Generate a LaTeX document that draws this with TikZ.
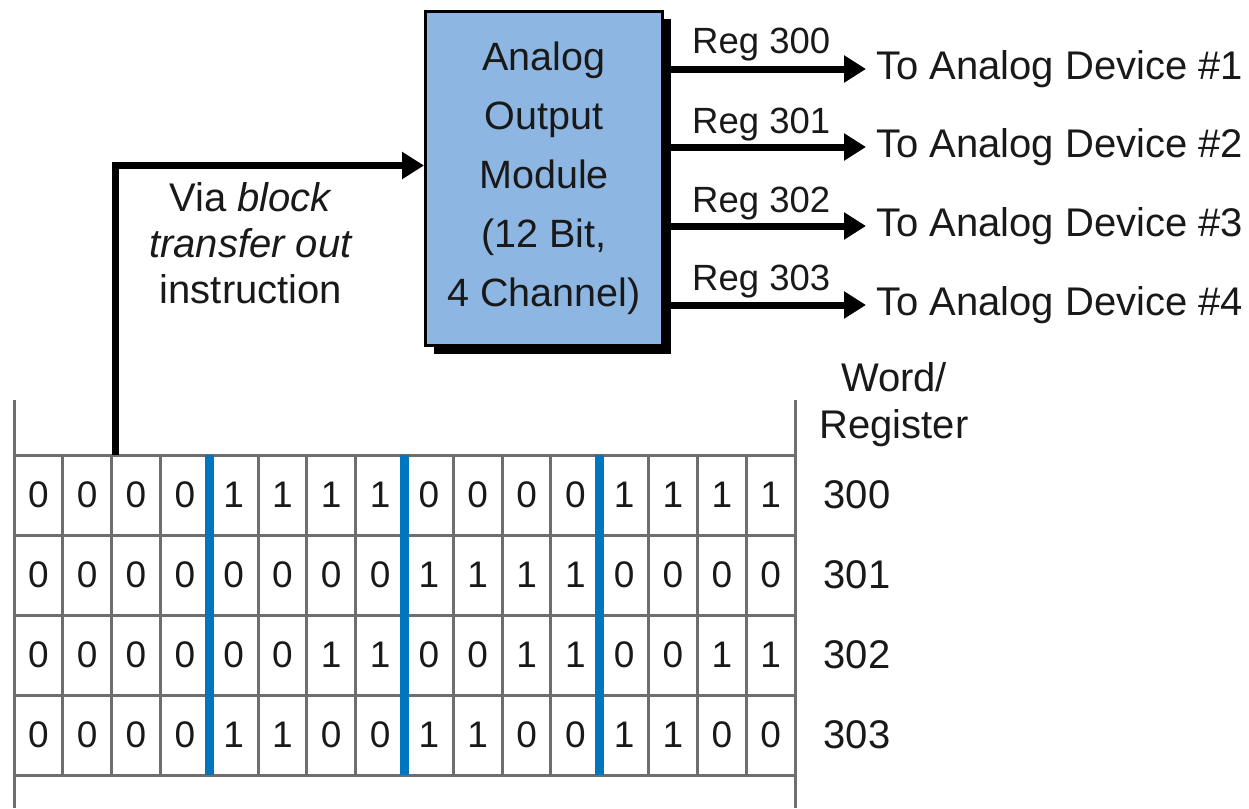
\documentclass[tikz,border=0pt]{standalone}
\usepackage{fontspec}
\setmainfont{Liberation Sans}
\usetikzlibrary{arrows.meta,shadows}
\definecolor{boxblue}{RGB}{141,182,226}
\definecolor{gridgray}{RGB}{110,110,110}
\definecolor{sepblue}{RGB}{0,118,190}
\definecolor{ink}{RGB}{25,25,25}
\begin{document}
\begin{tikzpicture}[x=1pt,y=-1pt,
  lbl/.style={font=\fontsize{40}{46}\selectfont, text=ink, inner sep=0pt},
  reglbl/.style={font=\fontsize{36.5}{42}\selectfont, text=ink, inner sep=0pt},
  devlbl/.style={font=\fontsize{40}{46}\selectfont, text=ink, inner xsep=10pt, inner ysep=0pt},
  digit/.style={font=\fontsize{37}{44}\selectfont, text=ink, inner sep=0pt},
  modbox/.style={draw=black, line width=3pt, fill=boxblue, minimum width=237pt, minimum height=334pt,
    align=center, text=ink, font=\fontsize{39.5}{59}\selectfont,
    drop shadow={shadow xshift=8pt, shadow yshift=-8pt, fill=black, opacity=1}},
  outarr/.style={draw=black, line width=7pt, -{Triangle[length=22pt,width=26pt]}},
  gridline/.style={draw=gridgray, line width=3pt},
  sepline/.style={draw=sepblue, line width=9pt},
]
\useasboundingbox (0,0) rectangle (1249,808);

% module box
\node[modbox] (aom) at (544,178.5) {Analog\\Output\\Module\\(12 Bit,\\4 Channel)};

% device labels
\node[devlbl, anchor=west] (dev1) at (866,69) {To Analog Device \#1};
\node[devlbl, anchor=west] (dev2) at (866,147) {To Analog Device \#2};
\node[devlbl, anchor=west] (dev3) at (866,226) {To Analog Device \#3};
\node[devlbl, anchor=west] (dev4) at (866,305) {To Analog Device \#4};

\foreach \i in {1,...,4}{
  \draw[outarr] (aom.east |- dev\i.west) -- (dev\i.west);
}

% register labels
\node[reglbl, anchor=base west] (reg1) at (692,54) {Reg 300};
\node[reglbl, anchor=base west] (reg2) at (692,133) {Reg 301};
\node[reglbl, anchor=base west] (reg3) at (692,212) {Reg 302};
\node[reglbl, anchor=base west] (reg4) at (692,290) {Reg 303};

% via text
\node[lbl, align=center] (via) at (251,243) {Via \textit{block}\\\textit{transfer out}\\instruction};

% word/register
\node[lbl, align=center, font=\fontsize{40}{47}\selectfont] (wr) at (894,405) {Word/\\Register};
\node[lbl] (rl1) at (857,495) {300};
\node[lbl] (rl2) at (857,575) {301};
\node[lbl] (rl3) at (857,655) {302};
\node[lbl] (rl4) at (857,735) {303};

% table lines
\draw[gridline] (14,400) -- (14,808);
\draw[gridline] (795,400) -- (795,808);
\foreach \y in {455,535,615,695,775}{
  \draw[gridline] (14,\y) -- (795,\y);
}
\foreach \c in {1,2,3,5,6,7,9,10,11,13,14,15}{
  \draw[gridline] ({14+48.8125*\c},455) -- ++(0,320);
}
\foreach \c in {4,8,12}{
  \draw[sepline] ({14+48.8125*\c},455) -- ++(0,320);
}

% digits
\foreach \row [count=\r] in {
  {0,0,0,0,1,1,1,1,0,0,0,0,1,1,1,1},
  {0,0,0,0,0,0,0,0,1,1,1,1,0,0,0,0},
  {0,0,0,0,0,0,1,1,0,0,1,1,0,0,1,1},
  {0,0,0,0,1,1,0,0,1,1,0,0,1,1,0,0}}{
  \foreach \v [count=\c] in \row {
    \node[digit] (d\r-\c) at ({14+48.8125*(\c-0.5)},{455+80*(\r-0.5)}) {\v};
  }
}

% input connector
\coordinate (src) at (115,455);
\coordinate (tgt) at ([yshift=13pt]aom.west);
\draw[outarr] (src) |- (tgt);
\end{tikzpicture}
\end{document}
